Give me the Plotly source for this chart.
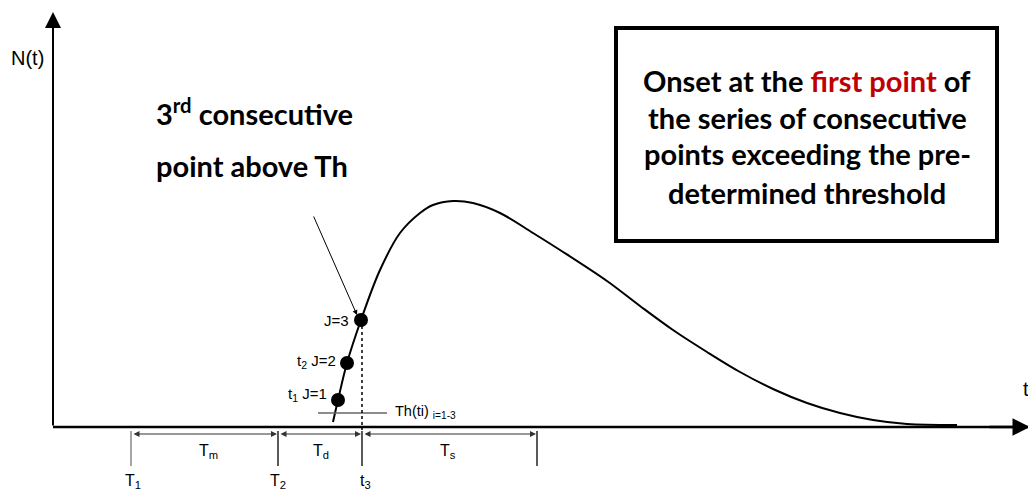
import plotly.graph_objects as go

# Detection curve N(t): time axis origin at the corner of the axes
curve_t = [280, 285, 294, 308, 327, 347, 367, 380, 400, 420, 447, 480, 507,
           554, 587, 620, 654, 687, 720, 754, 787, 820, 854, 904]
curve_n = [5, 27, 64, 107, 157, 194, 214, 222, 226, 224, 214, 194, 177,
           146, 121, 97, 75, 55, 38, 24, 14, 7, 3, 2]

# Consecutive samples above the threshold
point_t = [285, 294, 308]
point_n = [27, 64, 107]
point_labels = ["t<sub>1</sub> J=1", "t<sub>2</sub> J=2", "J=3"]

# Threshold level and its extent
threshold_n = 14
threshold_t = [265, 334]

# Interval markers on the time axis
marker_t = [78, 225, 309, 484]
marker_labels = ["T<sub>1</sub>", "T<sub>2</sub>", "t<sub>3</sub>"]
interval_labels = ["T<sub>m</sub>", "T<sub>d</sub>", "T<sub>s</sub>"]

callout_lines = ["3<sup>rd</sup> consecutive", "point above Th"]

box_lines = [
    "Onset at the <span style='color:#c00000'>first point</span> of",
    "the series of consecutive",
    "points exceeding the pre-",
    "determined threshold",
]

X_MIN, X_MAX = -53, 975
Y_MIN, Y_MAX = -65, 427

ARIAL = "Liberation Sans, Arial"
HEAVY = "Lato"

fig = go.Figure()

fig.add_trace(go.Scatter(
    x=curve_t, y=curve_n, mode="lines",
    line=dict(color="black", width=2, shape="spline", smoothing=1.0),
    hoverinfo="skip",
))
fig.add_trace(go.Scatter(
    x=point_t, y=point_n, mode="markers",
    marker=dict(color="black", size=14),
    hoverinfo="skip",
))

shapes = []
ann = []

# Axes
shapes.append(dict(type="line", x0=0, y0=0, x1=X_MAX, y1=0,
                   line=dict(color="black", width=2.5)))
ann.append(dict(x=0, y=415, ax=0, ay=0, xref="x", yref="y", axref="x", ayref="y",
                showarrow=True, arrowhead=2, arrowsize=1.6, arrowwidth=2,
                arrowcolor="black", text=""))
ann.append(dict(x=X_MAX + 2, y=0, ax=X_MAX - 40, ay=0, xref="x", yref="y",
                axref="x", ayref="y", showarrow=True, arrowhead=2, arrowsize=1.4,
                arrowwidth=2.5, arrowcolor="black", text=""))
ann.append(dict(x=-7, y=369, text="N(t)", showarrow=False, xanchor="right",
                font=dict(family=ARIAL, size=20, color="black")))
ann.append(dict(x=968, y=38, text="t", showarrow=False, xanchor="left",
                font=dict(family=ARIAL, size=20, color="black")))

# Threshold line
shapes.append(dict(type="line", x0=threshold_t[0], y0=threshold_n,
                   x1=threshold_t[1], y1=threshold_n,
                   line=dict(color="#666666", width=1.5)))
ann.append(dict(x=threshold_t[1] + 6, y=threshold_n + 1,
                text="Th(ti) <sub>i=1-3</sub>", showarrow=False, xanchor="left",
                font=dict(family=ARIAL, size=14.5, color="black")))

# Onset vertical (dotted)
shapes.append(dict(type="line", x0=point_t[2] + 1, y0=point_n[2], x1=point_t[2] + 1, y1=-3,
                   line=dict(color="black", width=1.5, dash="dot")))

# Point labels
label_offsets = [(-9, 6), (-9, 2), (-10, 0)]
for t, n, lab, (dx, dy) in zip(point_t, point_n, point_labels, label_offsets):
    ann.append(dict(x=t + dx, y=n + dy, text=lab, showarrow=False, xanchor="right",
                    font=dict(family=ARIAL, size=15, color="black")))

# Pointer to the third point
ann.append(dict(x=point_t[2] - 4, y=point_n[2] + 5, ax=260, ay=212,
                xref="x", yref="y", axref="x", ayref="y", showarrow=True,
                arrowhead=2, arrowsize=1, arrowwidth=1, arrowcolor="black", text=""))
for y, line in zip([315, 262], callout_lines):
    ann.append(dict(x=101, y=y, text="<b>" + line + "</b>", showarrow=False,
                    xanchor="left", font=dict(family=HEAVY, size=29, color="black")))

# Interval markers and dimension arrows
for i, t in enumerate(marker_t):
    color = "#777777" if i == 0 else "black"
    shapes.append(dict(type="line", x0=t, y0=-4, x1=t, y1=-39,
                       line=dict(color=color, width=1.3)))
for i in range(3):
    t0, t1 = marker_t[i], marker_t[i + 1]
    ann.append(dict(x=t1 - 1, y=-7, ax=t0 + 1, ay=-7, xref="x", yref="y",
                    axref="x", ayref="y", showarrow=True, arrowhead=2,
                    startarrowhead=2, arrowside="end+start", arrowsize=1,
                    arrowwidth=1.2, arrowcolor="#333333", text=""))
interval_pos = [155, 268, 395]
for x, lab in zip(interval_pos, interval_labels):
    ann.append(dict(x=x, y=-24, text=lab, showarrow=False,
                    font=dict(family=ARIAL, size=16, color="black")))
bottom_pos = [80, 225, 312]
for x, lab in zip(bottom_pos, marker_labels):
    ann.append(dict(x=x, y=-54, text=lab, showarrow=False,
                    font=dict(family=ARIAL, size=16, color="black")))

# Framed statement
shapes.append(dict(type="rect", x0=563, y0=399, x1=944, y1=186,
                   line=dict(color="black", width=4), fillcolor="white"))
box_y = [347, 310, 274, 235]
for y, line in zip(box_y, box_lines):
    ann.append(dict(x=754, y=y, text="<b>" + line + "</b>", showarrow=False,
                    font=dict(family=HEAVY, size=29, color="black")))

fig.update_layout(
    width=1028, height=492,
    margin=dict(l=0, r=0, t=0, b=0),
    paper_bgcolor="white", plot_bgcolor="white",
    showlegend=False,
    xaxis=dict(range=[X_MIN, X_MAX], visible=False, fixedrange=True),
    yaxis=dict(range=[Y_MIN, Y_MAX], visible=False, fixedrange=True),
    shapes=shapes, annotations=ann,
)

fig.write_html("out.html")
